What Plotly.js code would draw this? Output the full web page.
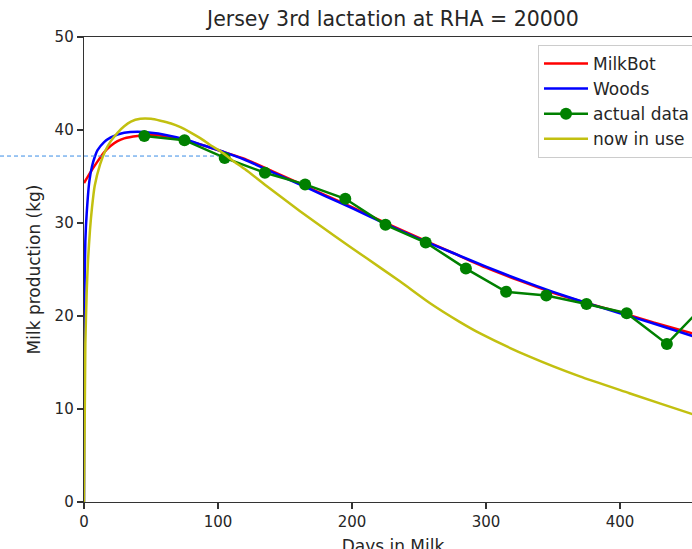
<!DOCTYPE html>
<html><head><meta charset="utf-8">
<script src="https://cdn.plot.ly/plotly-3.0.1.min.js"></script>
<style>
html,body{margin:0;padding:0;overflow:hidden;background:#fff;width:692px;height:549px}
#chart{width:712px;height:575px}
</style>
</head><body><div id="chart"></div><script>
// ---- data ----
const milkbotDays = [0,5,10,15,20,25,30,40,50,60,75,90,105,120,140,160,180,200,225,250,275,300,325,350,375,400,425,455,462];
const milkbotKg   = [34.3,35.5,36.6,37.6,38.3,38.8,39.1,39.35,39.45,39.35,38.9,38.3,37.6,36.9,35.6,34.3,33.0,31.7,30.0,28.4,26.8,25.2,23.8,22.5,21.4,20.4,19.3,18.1,17.8];

const woodsDays = [0,0.3,1,2,4,6,8,10,15,20,25,30,40,50,60,75,90,105,120,140,160,180,200,225,250,275,300,325,350,375,400,425,455,462];
const woodsKg   = [0,22,28,31,34.5,36.1,37.1,37.8,38.7,39.2,39.5,39.7,39.8,39.7,39.5,39.0,38.3,37.6,36.8,35.5,34.2,32.9,31.6,29.9,28.3,26.8,25.3,23.9,22.6,21.4,20.3,19.2,17.8,17.5];

const actualDays = [45,75,105,135,165,195,225,255,285,315,345,375,405,435,465];
const actualKg   = [39.35,38.9,37.0,35.4,34.15,32.6,29.8,27.9,25.1,22.6,22.2,21.3,20.3,17.0,21.5];

const nowDays = [0,1,2,3,4.5,6,8,12,16,20,25,30,35,42,50,57,65,72,80,87,95,102,111,120,136,161,186,211,236,258,280,296,333,370,407,455,462];
const nowKg   = [0,17,22.5,26,29.3,31.7,34.0,36.3,37.8,38.8,39.7,40.4,40.9,41.2,41.2,41.0,40.7,40.3,39.7,39.1,38.3,37.7,36.7,35.8,34.0,31.3,28.7,26.2,23.7,21.4,19.4,18.1,15.6,13.5,11.7,9.4,9.1];

const seriesNames = ['MilkBot','Woods','actual data','now in use'];
const xTicks = [0,100,200,300,400];
const yTicks = [0,10,20,30,40,50];
const refKg = 37.2;    // dashed guide line level
const refDay = 100;    // dashed guide line end
const xMax = 461.2, yMax = 50;

// ---- chart ----
const font = 'DejaVu Sans, sans-serif';
const txt = '#262626';
const W = 712, H = 575, M = {l:84, r:10, t:37, b:73};
const plotW = W - M.l - M.r;

const traces = [
  {x: milkbotDays, y: milkbotKg, name: seriesNames[0], mode:'lines', legendgroup:'a',
   line:{color:'#ff0000', width:2.5, shape:'spline', smoothing:0.6}},
  {x: woodsDays, y: woodsKg, name: seriesNames[1], mode:'lines', legendgroup:'b',
   line:{color:'#0000ff', width:2.5, shape:'spline', smoothing:0.6}},
  {x: actualDays, y: actualKg, name: seriesNames[2], mode:'lines+markers', legendgroup:'c',
   line:{color:'#008000', width:2.5}, marker:{color:'#008000', size:12}},
  {x: nowDays, y: nowKg, name: seriesNames[3], mode:'lines', legendgroup:'d',
   line:{color:'#c2c010', width:2.5, shape:'spline', smoothing:0.6}}
];

const axisCommon = {
  showgrid:false, zeroline:false, showline:true, mirror:true,
  linecolor:'#333', linewidth:1.3, ticks:'outside', ticklen:6, tickwidth:1.3, tickcolor:'#333',
  tickfont:{family:font, size:15, color:txt}
};

const layout = {
  width: W, height: H, margin: M,
  paper_bgcolor:'#fff', plot_bgcolor:'#fff',
  title:{text:'Jersey 3rd lactation at RHA = 20000', font:{family:font, size:20.5, color:txt},
         x:0.5, xref:'paper', xanchor:'center', y:1-19/H, yref:'container', yanchor:'middle'},
  xaxis: Object.assign({}, axisCommon, {range:[0,xMax], tickvals:xTicks,
         title:{text:'Days in Milk', font:{family:font, size:17, color:txt}, standoff:9}}),
  yaxis: Object.assign({}, axisCommon, {range:[0,yMax], tickvals:yTicks,
         title:{text:'Milk production (kg)', font:{family:font, size:17, color:txt}, standoff:9}}),
  legend:{x:(538-M.l)/plotW, y:0.983, xanchor:'left', yanchor:'top', itemwidth:44,
          bgcolor:'rgba(255,255,255,0.9)', bordercolor:'#cccccc', borderwidth:1,
          font:{family:font, size:17, color:txt}, tracegroupgap:4, traceorder:'normal'},
  shapes:[{type:'line', xref:'paper', yref:'paper',
           x0:-M.l/plotW, x1:refDay/xMax, y0:refKg/yMax, y1:refKg/yMax,
           line:{color:'#3a8ee6', width:1, dash:'4px,3px'}}],
  showlegend:true
};

Plotly.newPlot('chart', traces, layout, {displayModeBar:false, staticPlot:true});
</script></body></html>
